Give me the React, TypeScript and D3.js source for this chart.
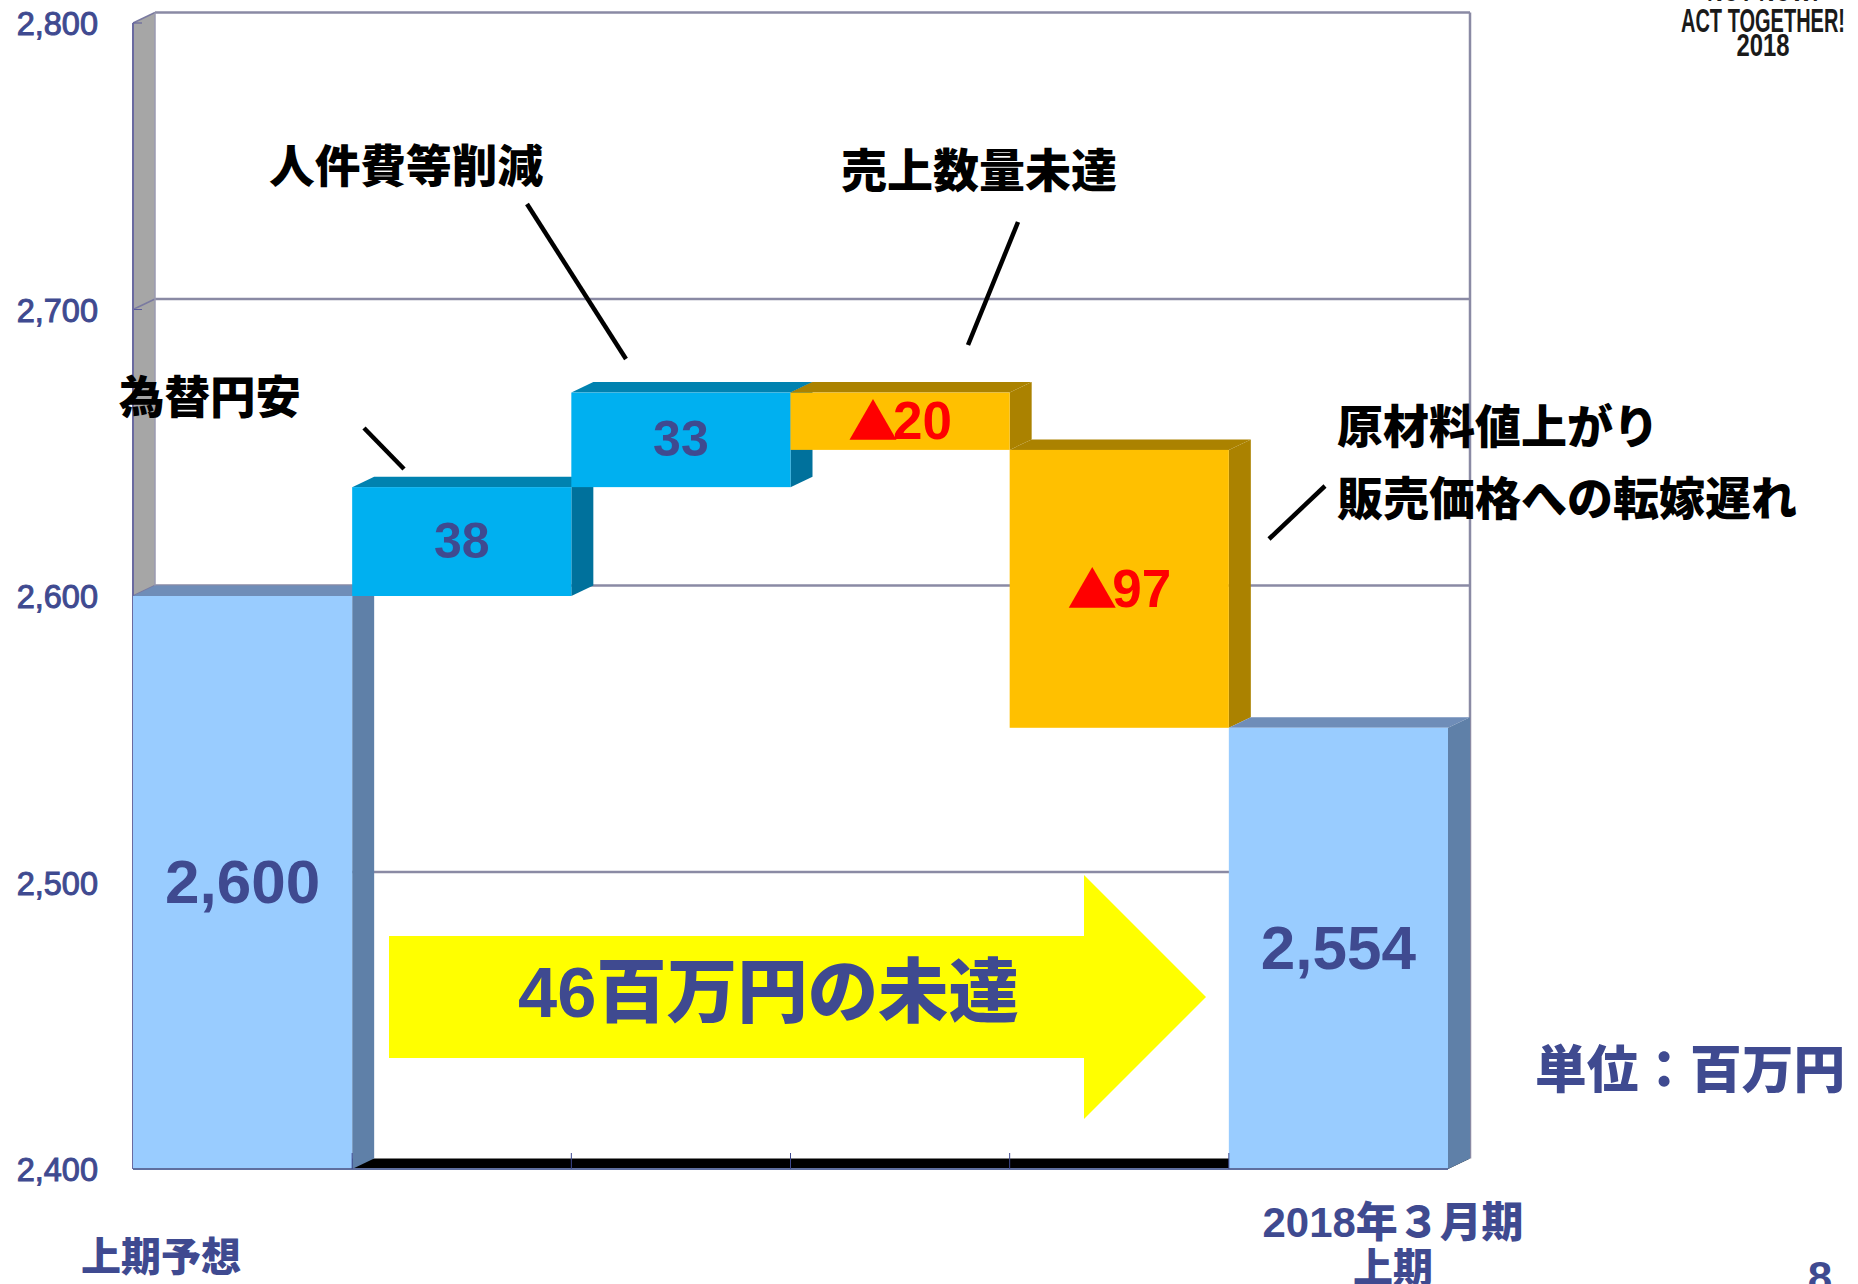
import React from "react";
import * as d3 from "d3";

const categories = ["上期予想", "為替円安", "人件費等削減", "売上数量未達", "原材料値上がり", "2018年３月期上期"];
const barBase = [2400, 2600, 2638, 2651, 2554, 2400];
const barTop = [2600, 2638, 2671, 2671, 2651, 2554];
const barKind = ["total", "up", "up", "down", "down", "total"];
const barLabels = ["2,600", "38", "33", "20", "97", "2,554"];
const yTicks = [2400, 2500, 2600, 2700, 2800];

const NAVY = "#3f4a90";
const CJK = "'Liberation Sans','Noto Sans CJK JP',sans-serif";
const fills: Record<string, { front: string; side: string; top: string }> = {
  total: { front: "#99ccff", side: "#5f80a8", top: "#6f8db8" },
  up: { front: "#00b0f0", side: "#00719c", top: "#0082b0" },
  down: { front: "#ffc000", side: "#ab8200", top: "#ab8200" },
};

const x = d3.scaleBand<number>().domain(d3.range(categories.length)).range([133, 1448]).paddingInner(0).paddingOuter(0);
const y = d3.scaleLinear().domain([2400, 2800]).range([1169, 23]);
const DX = 22;
const DY = -10.5;

const pts = (p: number[][]) => p.map((q) => q.join(",")).join(" ");

function Bar({ i }: { i: number }) {
  const l = x(i)!;
  const r = l + x.bandwidth();
  const t = y(barTop[i]);
  const b = y(barBase[i]);
  const c = fills[barKind[i]];
  return (
    <g>
      <polygon points={pts([[l, t], [l + DX, t + DY], [r + DX, t + DY], [r, t]])} fill={c.top} />
      <polygon points={pts([[r, t], [r + DX, t + DY], [r + DX, b + DY], [r, b]])} fill={c.side} />
      <rect x={l} y={t} width={r - l} height={b - t} fill={c.front} />
    </g>
  );
}

function T(p: any) {
  const { size, w, fill = NAVY, children, anchor = "start", ...rest } = p;
  return (
    <text
      {...rest}
      fontFamily={CJK}
      fontWeight={900}
      fontSize={size}
      fill={fill}
      textAnchor={anchor}
      dominantBaseline="central"
      textLength={w}
      lengthAdjust={w ? "spacingAndGlyphs" : undefined}
    >
      {children}
    </text>
  );
}

export default function App() {
  const xL = 133;
  const xR = 1448;
  const yB = y(2400);
  const yT = y(2800);
  return (
    <svg width={1858} height={1284} viewBox="0 0 1858 1284" style={{ position: "absolute", left: 0, top: 0, background: "#fff" }}>
      {/* left wall */}
      <polygon points={pts([[xL, yT], [xL + DX, yT + DY], [xL + DX, yB + DY], [xL, yB]])} fill="#a6a6a6" />
      {/* floor */}
      <polygon points={pts([[xL, yB], [xL + DX, yB + DY], [xR + DX, yB + DY], [xR, yB]])} fill="#000" />
      {/* grid */}
      {yTicks.map((v) => (
        <g key={v}>
          {v > 2400 && <line x1={xL + DX} x2={xR + DX} y1={y(v) + DY} y2={y(v) + DY} stroke="#8a8aa4" strokeWidth={2.5} />}
          <line x1={xL} x2={xL + DX} y1={y(v)} y2={y(v) + DY} stroke="#7a7aa0" strokeWidth={1.5} />
          <line x1={xL} x2={xL + 9} y1={y(v)} y2={y(v)} stroke="#5a5a9a" strokeWidth={1} />
          <text
            x={98}
            y={y(v) + 1}
            textAnchor="end"
            dominantBaseline="central"
            fontFamily="'Liberation Sans',sans-serif"
            fontSize={32.5}
            fill={NAVY}
            stroke={NAVY}
            strokeWidth={1}
          >
            {d3.format(",")(v)}
          </text>
        </g>
      ))}
      <line x1={xL + DX} x2={xL + DX} y1={yT + DY} y2={yB + DY} stroke="#9a9ab0" strokeWidth={1.5} />
      <line x1={xR + DX} x2={xR + DX} y1={yT + DY} y2={yB + DY} stroke="#8a8aa4" strokeWidth={2.5} />
      <line x1={xL} x2={xL} y1={yT} y2={yB} stroke="#6a6aa0" strokeWidth={2} />
      {/* bars */}
      {categories.map((_, i) => (
        <Bar key={i} i={i} />
      ))}
      <line x1={xL} x2={xR} y1={yB} y2={yB} stroke="#5f6f9f" strokeWidth={2} />
      {d3.range(1, categories.length).map((i) => (
        <line key={i} x1={x(i)!} x2={x(i)!} y1={yB} y2={yB - 16} stroke="#3f4a90" strokeWidth={1} />
      ))}

      {/* arrow */}
      <polygon
        points={pts([[389, 936], [1084, 936], [1084, 875], [1206, 997], [1084, 1119], [1084, 1058], [389, 1058]])}
        fill="#ffff00"
      />
      <T x={518} y={993} size={70} w={501}>46百万円の未達</T>

      {/* bar value labels */}
      {categories.map((_, i) => {
        const negative = barKind[i] === "down";
        const cx = x(i)! + x.bandwidth() / 2;
        const cy = (barKind[i] === "total" ? (i === 0 ? y(2500) : y(2477)) : (y(barBase[i]) + y(barTop[i])) / 2) - 1;
        if (negative) {
          return (
            <T key={i} x={cx} y={cy} size={53} anchor="middle" fill="#ff0000">
              <tspan fontFamily="'Noto Sans CJK JP',sans-serif" fontSize={50} dy={-2}>▲</tspan>
              <tspan dy={2} dx={-5}>{barLabels[i]}</tspan>
            </T>
          );
        }
        return (
          <T key={i} x={cx} y={cy} size={barKind[i] === "total" ? 62 : 50} anchor="middle">
            {barLabels[i]}
          </T>
        );
      })}

      {/* annotations */}
      <g stroke="#000" strokeWidth={4.5}>
        <line x1={364} y1={428} x2={404} y2={469} />
        <line x1={527} y1={204} x2={626} y2={359} />
        <line x1={1018} y1={222} x2={968} y2={345} />
        <line x1={1325} y1={486} x2={1269} y2={539} />
      </g>
      <T x={119} y={398} size={45.5} fill="#000">為替円安</T>
      <T x={269} y={167} size={45.7} fill="#000">人件費等削減</T>
      <T x={841} y={171} size={46} fill="#000">売上数量未達</T>
      <T x={1337} y={427} size={46} fill="#000">原材料値上がり</T>
      <T x={1337} y={499} size={46} fill="#000">販売価格への転嫁遅れ</T>

      {/* category labels and notes */}
      <T x={81} y={1257} size={40}>上期予想</T>
      <T x={1393} y={1222} size={42} anchor="middle" w={261}>2018年３月期</T>
      <T x={1393} y={1268} size={40} anchor="middle">上期</T>
      <T x={1535} y={1070} size={51.7}>単位：百万円</T>
      <T x={1820} y={1277} size={44} anchor="middle">8</T>

      {/* logo */}
      <T x={1763} y={-10} size={32} anchor="middle" fill="#1a1a1a" w={112}>NOT NOW!</T>
      <T x={1763} y={20} size={34} anchor="middle" fill="#1a1a1a" w={164}>ACT TOGETHER!</T>
      <T x={1763} y={45} size={31} anchor="middle" fill="#1a1a1a" w={53}>2018</T>
    </svg>
  );
}
